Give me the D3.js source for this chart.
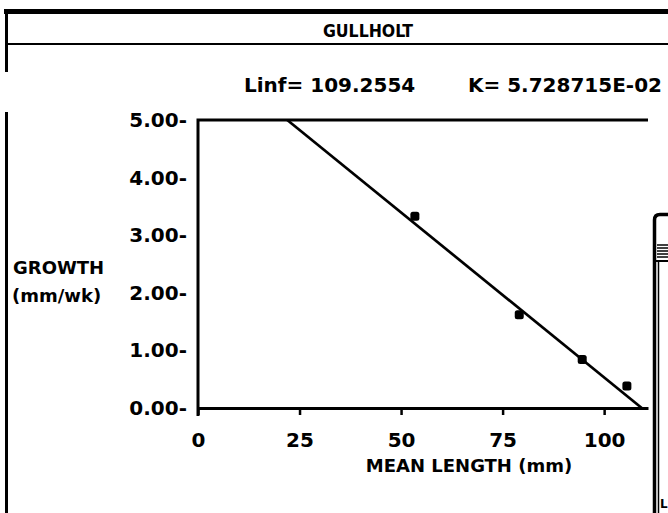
<!DOCTYPE html>
<html>
<head>
<meta charset="utf-8">
<script src="https://cdn.jsdelivr.net/npm/d3@7"></script>
<style>
    body { margin: 0; background: #fff; }
    svg text { font-family: "DejaVu Sans", sans-serif; font-weight: bold; fill: #000; }
    .title { font-family: "DejaVu Sans Condensed", "DejaVu Sans", sans-serif; font-stretch: condensed; }
</style>
</head>
<body>
<div id="chart"></div>
<script>
const lengths = [53.4, 79.1, 94.6, 105.6];
const growth = [3.33, 1.62, 0.84, 0.38];
const xTicks = [0, 25, 50, 75, 100];
const yTicks = [0, 1, 2, 3, 4, 5];
const linf = 109.2554;
const k = 0.05728715;
const titleText = "GULLHOLT";
const paramLinf = "Linf= 109.2554";
const paramK = "K= 5.728715E-02";

const width = 668, height = 513;

const svg = d3.select("#chart").append("svg")
    .attr("width", width)
    .attr("height", height);

// window frame
svg.append("rect").attr("x", 4).attr("y", 9).attr("width", 664).attr("height", 5);
svg.append("rect").attr("x", 5).attr("y", 43).attr("width", 663).attr("height", 2);
svg.append("rect").attr("x", 5).attr("y", 9).attr("width", 3).attr("height", 63);
svg.append("rect").attr("x", 5).attr("y", 112).attr("width", 3).attr("height", 401);

svg.append("text")
    .attr("class", "title")
    .attr("x", 368)
    .attr("y", 37)
    .attr("text-anchor", "middle")
    .style("font-size", "17.5px")
    .text(titleText);

svg.append("text")
    .attr("x", 244)
    .attr("y", 92)
    .style("font-size", "20px")
    .text(paramLinf);

svg.append("text")
    .attr("x", 662)
    .attr("y", 92)
    .attr("text-anchor", "end")
    .style("font-size", "20px")
    .text(paramK);

// scales
const x = d3.scaleLinear().domain([0, 110.8]).range([198, 648]);
const y = d3.scaleLinear().domain([0, 5]).range([408, 120]);

// frame: left and top
svg.append("path")
    .attr("d", `M${x(0)},${y(0) + 8}V${y(5)}H${x(110.8)}`)
    .attr("fill", "none")
    .attr("stroke", "#000")
    .attr("stroke-width", 3);

const xAxis = d3.axisBottom(x)
    .tickValues(xTicks)
    .tickSize(7)
    .tickSizeOuter(0)
    .tickPadding(18)
    .tickFormat(d3.format("d"));

const gx = svg.append("g")
    .attr("transform", `translate(0,${y(0)})`)
    .call(xAxis);
gx.select(".domain").attr("stroke-width", 3);
gx.selectAll(".tick line").attr("stroke-width", 2.5);
gx.selectAll(".tick text").style("font-size", "20px").attr("font-family", null);

const yAxis = d3.axisLeft(y)
    .tickValues(yTicks)
    .tickSize(0)
    .tickPadding(11)
    .tickFormat(d => d3.format(".2f")(d) + "-");

const gy = svg.append("g")
    .attr("transform", `translate(${x(0)},0)`)
    .call(yAxis);
gy.select(".domain").remove();
gy.selectAll(".tick text").style("font-size", "20px").attr("font-family", null);

// axis titles
svg.append("text")
    .attr("x", 13)
    .attr("y", 274)
    .style("font-size", "18px")
    .text("GROWTH");
svg.append("text")
    .attr("x", 12)
    .attr("y", 302)
    .style("font-size", "18px")
    .text("(mm/wk)");
svg.append("text")
    .attr("x", 469)
    .attr("y", 472)
    .attr("text-anchor", "middle")
    .style("font-size", "18px")
    .text("MEAN LENGTH (mm)");

// fitted von Bertalanffy line: growth = K * (Linf - L)
const fit = [linf - 5 / k, linf].map(L => ({ L: L, g: k * (linf - L) }));
const line = d3.line().x(d => x(d.L)).y(d => y(d.g));
svg.append("path")
    .datum(fit)
    .attr("d", line)
    .attr("fill", "none")
    .attr("stroke", "#000")
    .attr("stroke-width", 2.7);

// observed points
svg.selectAll(".pt")
    .data(lengths.map((L, i) => ({ L: L, g: growth[i] })))
    .enter().append("rect")
    .attr("class", "pt")
    .attr("x", d => x(d.L) - 4.5)
    .attr("y", d => y(d.g) - 4.5)
    .attr("width", 9)
    .attr("height", 9)
    .attr("rx", 2.5);

// overlapping window at right edge
const win = svg.append("g");
win.append("path")
    .attr("d", "M654.5,513V220Q654.5,214.5 660,214.5H668")
    .attr("fill", "none").attr("stroke", "#000").attr("stroke-width", 3.5);
win.append("line")
    .attr("x1", 658.5).attr("x2", 658.5).attr("y1", 262).attr("y2", 513)
    .attr("stroke", "#000").attr("stroke-width", 1.5);
[245, 248, 251, 254, 257].forEach(s => {
    win.append("line")
        .attr("x1", 657).attr("x2", 668).attr("y1", s).attr("y2", s)
        .attr("stroke", "#000").attr("stroke-width", 1.5);
});
win.append("line")
    .attr("x1", 656).attr("x2", 668).attr("y1", 261).attr("y2", 261)
    .attr("stroke", "#000").attr("stroke-width", 2);
win.append("text")
    .attr("x", 660)
    .attr("y", 508)
    .style("font-size", "12px")
    .text("L");
</script>
</body>
</html>
